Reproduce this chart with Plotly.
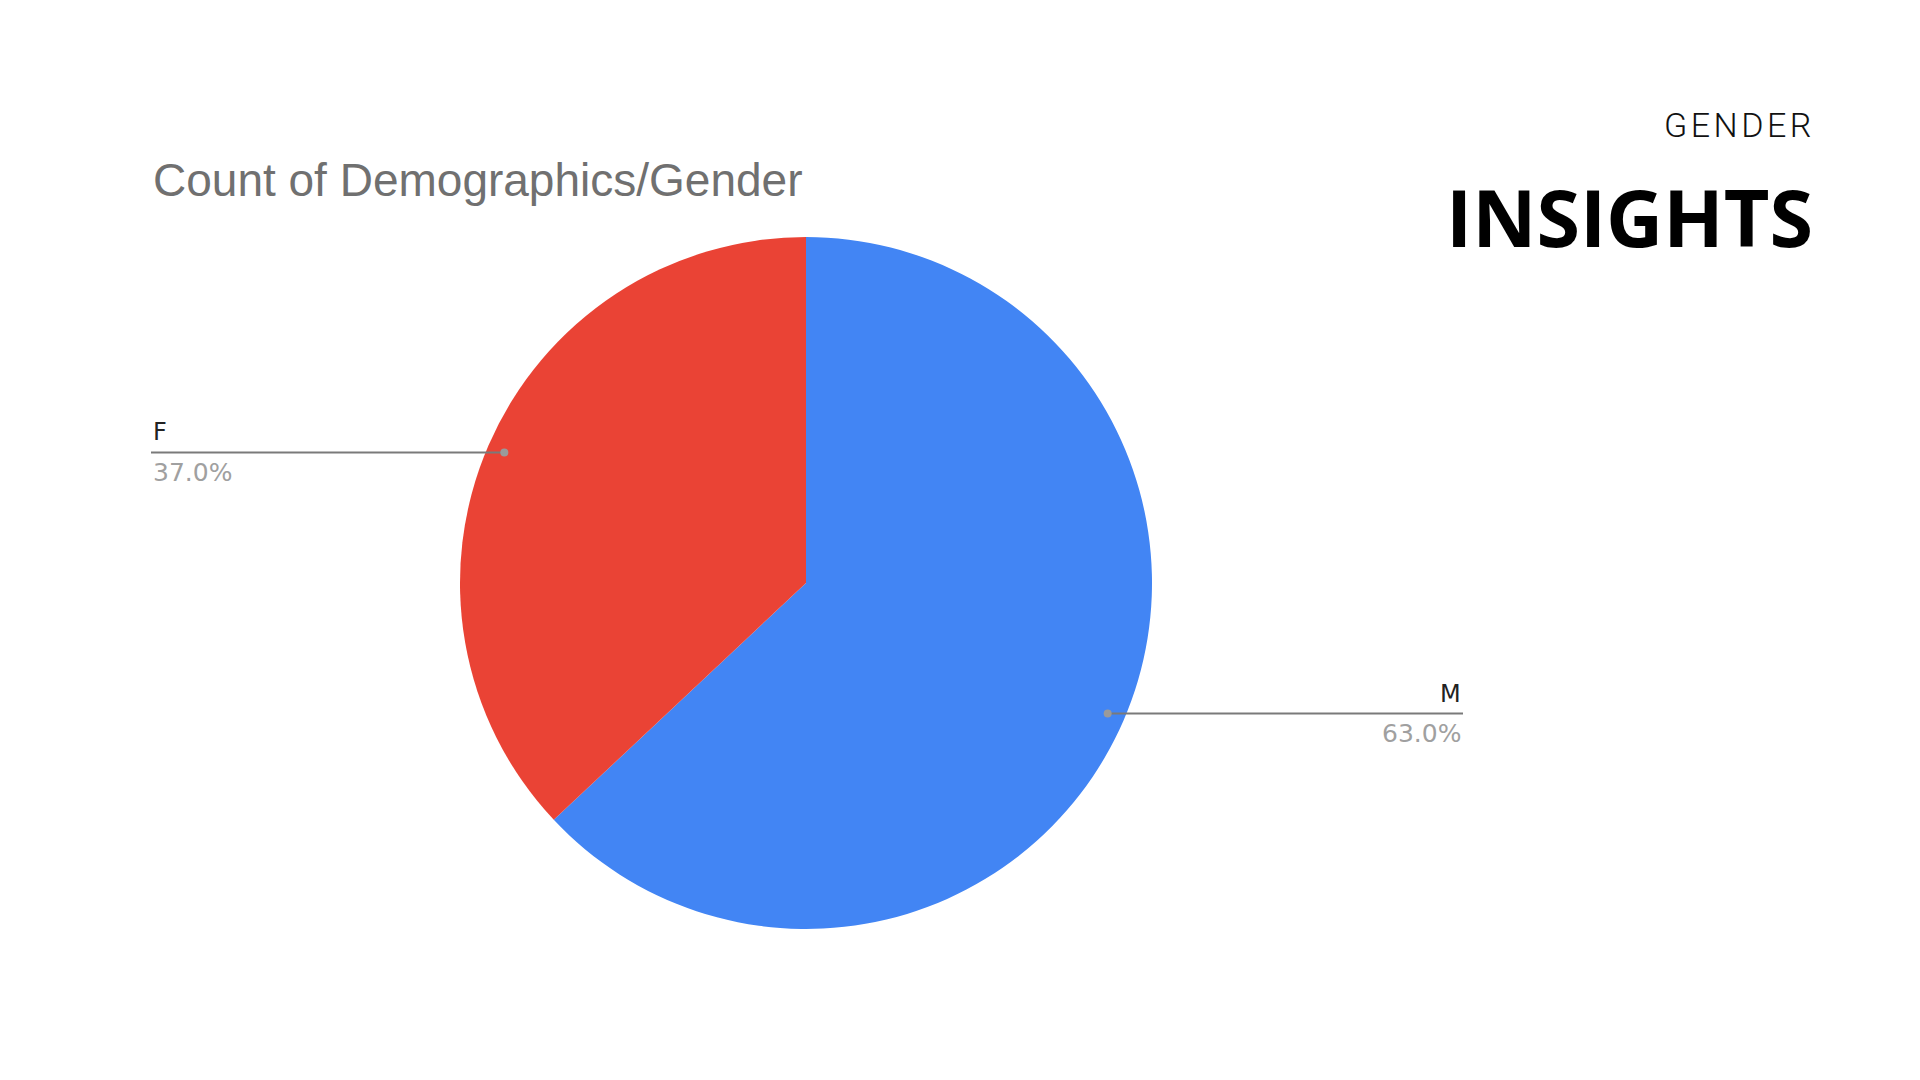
import math
import plotly.graph_objects as go

# page body has an 8px margin, so the figure sits at (8, 8) on screen
OFF = 8
W, H = 1920 - 2 * OFF, 1080 - 2 * OFF

# data
genders = ["M", "F"]
counts = [63, 37]
colors = ["#4285F4", "#EA4335"]

# pie placement (screen pixels)
cx, cy, R = 806 - OFF, 583 - OFF, 346
left_end, right_end = 151 - OFF, 1463 - OFF


def px_x(x):
    return x / W


def px_y(y):
    return 1 - y / H


fig = go.Figure()

fig.add_trace(go.Pie(
    labels=genders, values=counts, sort=False, direction="clockwise", rotation=0,
    marker=dict(colors=colors, line=dict(width=0)),
    textinfo="none", hoverinfo="label+percent", showlegend=False,
    domain=dict(x=[px_x(cx - R), px_x(cx + R)], y=[px_y(cy + R), px_y(cy - R)]),
))

shapes = []
annotations = []
total = sum(counts)
cum = 0
for g, v in zip(genders, counts):
    mid = (cum + v / 2) / total * 2 * math.pi
    cum += v
    px = cx + 0.95 * R * math.sin(mid)
    py = cy - 0.95 * R * math.cos(mid)
    right = px > cx
    end = right_end if right else left_end
    # leader line + dot
    shapes.append(dict(type="line", xref="paper", yref="paper", layer="above",
                       x0=px_x(px), x1=px_x(end), y0=px_y(py), y1=px_y(py),
                       line=dict(color="#7a7a7a", width=2)))
    shapes.append(dict(type="circle", xref="paper", yref="paper", layer="above",
                       x0=px_x(px - 4), x1=px_x(px + 4), y0=px_y(py + 4), y1=px_y(py - 4),
                       fillcolor="#9a9a9a", line=dict(width=0)))
    anc = "right" if right else "left"
    annotations.append(dict(x=px_x(end), y=px_y(py - 20), xref="paper", yref="paper", text=g,
                            showarrow=False, xanchor=anc, yanchor="middle",
                            font=dict(family="DejaVu Sans", size=24, color="#222222")))
    annotations.append(dict(x=px_x(end), y=px_y(py + 20), xref="paper", yref="paper",
                            text=f"{v / total * 100:.1f}%", showarrow=False, xanchor=anc, yanchor="middle",
                            font=dict(family="DejaVu Sans", size=25, color="#a0a0a0")))

annotations += [
    dict(x=px_x(151 - OFF), y=px_y(180 - OFF), xref="paper", yref="paper", text="Count of Demographics/Gender",
         showarrow=False, xanchor="left", yanchor="middle",
         font=dict(family="Liberation Sans", size=46, color="#707070")),
    dict(x=px_x(1813 - OFF), y=px_y(125 - OFF), xref="paper", yref="paper",
         text="G\u200aE\u200aN\u200aD\u200aE\u200aR",
         showarrow=False, xanchor="right", yanchor="middle",
         font=dict(family="Roboto", size=34, color="#111111", weight=300)),
    dict(x=px_x(1815 - OFF), y=px_y(216 - OFF), xref="paper", yref="paper", text="INSIGHTS",
         showarrow=False, xanchor="right", yanchor="middle",
         font=dict(family="Open Sans", size=79, color="#000000", weight=700)),
]

fig.update_layout(
    width=W, height=H, margin=dict(l=0, r=0, t=0, b=0),
    paper_bgcolor="white", plot_bgcolor="rgba(0,0,0,0)",
    xaxis=dict(visible=False), yaxis=dict(visible=False),
    shapes=shapes, annotations=annotations,
)

fig.write_html("out.html")
